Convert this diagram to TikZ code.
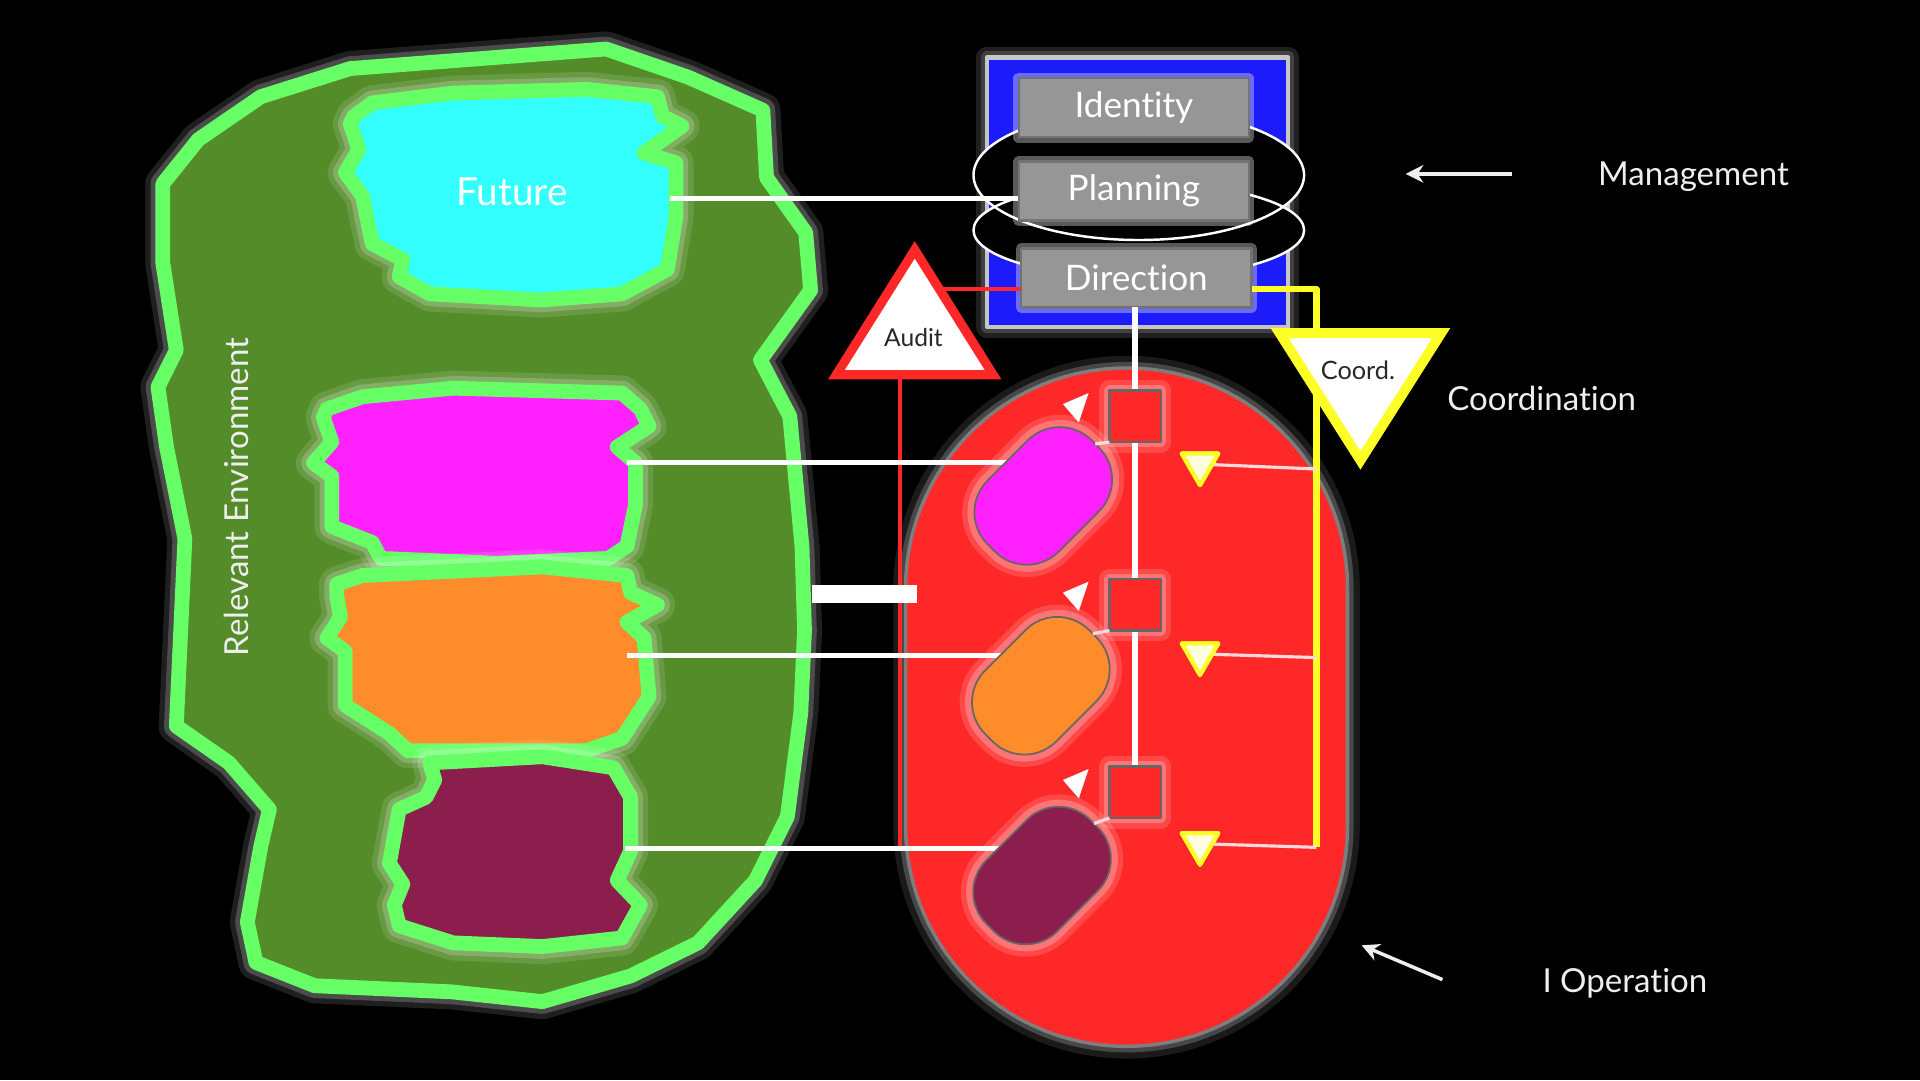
\documentclass[tikz,border=0pt]{standalone}
\usepackage{fontspec}
\setmainfont{Lato}[Ligatures={NoCommon}]
\usetikzlibrary{arrows.meta,calc,shapes.geometric}
\definecolor{envfill}{RGB}{84,140,42}
\definecolor{envline}{RGB}{102,255,102}
\definecolor{cyanfill}{RGB}{51,255,255}
\definecolor{magfill}{RGB}{255,34,255}
\definecolor{orgfill}{RGB}{255,140,42}
\definecolor{marfill}{RGB}{140,30,78}
\definecolor{opred}{RGB}{255,40,40}
\definecolor{mblue}{RGB}{28,28,250}
\definecolor{boxgray}{RGB}{150,150,150}
\definecolor{yel}{RGB}{255,255,40}
\definecolor{txtdark}{RGB}{40,40,40}
\definecolor{labelwhite}{RGB}{238,238,238}
\begin{document}
\begin{tikzpicture}[x=0.012245cm,y=-0.012245cm,line join=round,
  blob/.style={draw=envline,line width=4.2pt,
    preaction={draw=white,draw opacity=.12,line width=10pt},
    preaction={draw=white,draw opacity=.2,line width=7pt}},
  wire/.style={draw=white,line width=1.4pt},
  thinwire/.style={draw=white,line width=0.9pt},
  mgmtbox/.style={draw=black!55,fill=boxgray,line width=0.6pt,minimum width=2.302cm,
    minimum height=0.59cm,inner sep=0pt,outer sep=0pt,text=white,
    font=\fontsize{10}{12}\selectfont,
    preaction={draw=white,draw opacity=.35,line width=3pt}},
  lozenge/.style={draw=black!60,line width=0.5pt,minimum width=1.469cm,
    minimum height=1.004cm,rounded corners=0.45cm,rotate=45,inner sep=0pt,outer sep=0pt,
    preaction={draw=white,draw opacity=.15,line width=7pt},
    preaction={draw=white,draw opacity=.25,line width=4pt}},
  opsq/.style={draw=black!60,fill=opred,line width=0.7pt,minimum size=0.514cm,
    inner sep=0pt,outer sep=0pt,
    preaction={draw=white,draw opacity=.15,line width=6pt},
    preaction={draw=white,draw opacity=.25,line width=3pt}},
  sidelabel/.style={text=labelwhite,font=\fontsize{9.4}{11}\selectfont},
  ytri/.style={regular polygon,regular polygon sides=3,shape border rotate=180,
    minimum size=0.42cm,inner sep=0pt,outer sep=0pt,draw=yel,fill=yellow!12,line width=1.2pt},
  ptr/.style={draw=labelwhite,line width=1pt,-{Stealth[length=5pt,width=5pt]}}
]
\useasboundingbox (0,0) rectangle (1568,882);
\fill[black] (0,0) rectangle (1568,882);

% Relevant environment
\draw[blob,fill=envfill] (495,40) -- (562,63) -- (623,90) -- (626,145) -- (658,190) -- (662,237)
  -- (621,294) -- (645,340) -- (655,447) -- (657,515) -- (654,582) -- (643,667) -- (617,719)
  -- (570,770) -- (515,797) -- (443,818) -- (369,810) -- (257,805) -- (209,786) -- (202,753)
  -- (213,691) -- (220,661) -- (187,623) -- (144,593) -- (151,440) -- (136,365) -- (129,316)
  -- (144,286) -- (133,215) -- (133,150) -- (162,114) -- (213,79) -- (286,56) -- cycle;

% Future
\draw[blob,fill=cyanfill] (289,95) -- (304,84) -- (370,76) -- (479,73) -- (537,79) -- (541,95)
  -- (557,103) -- (526,125) -- (552,133) -- (552,177) -- (545,220) -- (508,240) -- (442,245)
  -- (351,240) -- (326,226) -- (329,212) -- (304,199) -- (296,160) -- (282,141) -- (293,122)
  -- (286,101) -- cycle;
% Magenta
\draw[blob,fill=magfill] (267,334) -- (296,324) -- (370,317) -- (508,321) -- (523,334) -- (530,348)
  -- (504,365) -- (519,378) -- (519,412) -- (512,446) -- (497,456) -- (406,460) -- (311,456)
  -- (304,443) -- (271,430) -- (271,389) -- (256,378) -- (271,361) -- (264,341) -- cycle;
% Orange
\draw[blob,fill=orgfill] (275,477) -- (296,470) -- (443,463) -- (512,470) -- (515,484) -- (537,494)
  -- (512,508) -- (526,521) -- (530,569) -- (508,603) -- (479,613) -- (333,613) -- (318,599)
  -- (282,576) -- (282,532) -- (267,521) -- (278,504) -- (275,487) -- cycle;
% Maroon
\draw[blob,fill=marfill] (351,623) -- (443,618) -- (501,627) -- (515,651) -- (515,695) -- (504,719)
  -- (523,739) -- (508,766) -- (443,773) -- (370,770) -- (326,756) -- (322,739) -- (329,722)
  -- (318,705) -- (326,661) -- (348,651) -- (355,637) -- cycle;

\node[text=labelwhite,rotate=90,font=\fontsize{9.4}{11}\selectfont] (envlbl) at (193,406) {Relevant Environment};
\node[text=white,font=\fontsize{11}{13}\selectfont] (future) at (418,157) {Future};

% Operation
\fill[opred,
  preaction={draw=white,draw opacity=.1,line width=8pt},
  preaction={draw=white,draw opacity=.2,line width=4.5pt},
  preaction={draw=white,draw opacity=.3,line width=2pt}]
  (741,481) arc[start angle=180,end angle=360,radius=179] -- (1099,674)
  arc[start angle=0,end angle=180,radius=179] -- cycle;

% audit line down
\coordinate (aB) at (735,306);
\coordinate (aBot) at (735,692);
\draw[draw=opred,line width=1.4pt] (aB) -- (aBot);

% connectors from environment
\coordinate (futR) at (547,162);
\coordinate (magR) at (512,378);
\coordinate (orgR) at (512,535);
\coordinate (marR) at (510,693);
\coordinate (l1) at (852,405);
\coordinate (l2) at (850,560);
\coordinate (l3) at (851,715);
\draw[wire] (magR) -- (l1 |- magR);
\draw[wire] (orgR) -- (l2 |- orgR);
\draw[wire] (marR) -- (l3 |- marR);
\coordinate (barL) at (663,485);
\coordinate (barR) at (749,485);
\draw[draw=white,line width=4.9pt] (barL) -- (barR);

% lozenges
\node[lozenge,fill=magfill] (loz1) at (l1) {};
\node[lozenge,fill=orgfill] (loz2) at (l2) {};
\node[lozenge,fill=marfill] (loz3) at (l3) {};

% management frame
\node[fill=mblue,draw=gray!45,line width=1.2pt,minimum width=3.012cm,minimum height=2.694cm,
  inner sep=0pt,preaction={draw=gray,draw opacity=.25,line width=6pt},
  preaction={draw=gray,draw opacity=.35,line width=3.5pt}] (frame) at (929,157) {};
\fill[black] (930,143) ellipse [x radius=135,y radius=53];
\fill[black] (930,188) ellipse [x radius=135,y radius=39];
\draw[white,line width=0.7pt] (930,143) ellipse [x radius=135,y radius=53];
\draw[white,line width=0.7pt] (930,188) ellipse [x radius=135,y radius=39];
\draw[wire] (futR) -- (832,162);
\node[mgmtbox] (identity) at (926,88) {Identity};
\node[mgmtbox] (planning) at (926,156) {Planning};
\node[mgmtbox] (direction) at (928,227) {Direction};

% squares and channel
\coordinate (s1) at (927,340);
\coordinate (s2) at (927,494);
\coordinate (s3) at (927,647);
\draw[draw=white,line width=1.9pt] (direction.south -| s1) -- (s3);
\node[opsq] (sq1) at (s1) {};
\node[opsq] (sq2) at (s2) {};
\node[opsq] (sq3) at (s3) {};
\draw[thinwire,draw=white!85!red] (sq1.south west) -- (loz1.east);
\draw[thinwire,draw=white!85!red] (sq2.south west) -- (loz2.east);
\draw[thinwire,draw=white!85!red] (sq3.south west) -- (loz3.east);
\foreach \s in {sq1,sq2,sq3}{
  \fill[white] ($(\s.center)+(-59,-10)$) -- ($(\s.center)+(-38,-19)$) -- ($(\s.center)+(-46,5)$) -- cycle;
}

% coordination channel
\coordinate (yTop) at (1075,236);
\coordinate (yBot) at (1075,692);
\draw[draw=yel,line width=1.8pt] (direction.east |- yTop) -- (yTop) -- (yBot);
\node[ytri] (yt1) at (980,379) {};
\node[ytri] (yt2) at (980,534) {};
\node[ytri] (yt3) at (980,689) {};
\draw[thinwire,draw=white!85!red] (1075,383) -- (yt1.center);
\draw[thinwire,draw=white!85!red] (1075,537) -- (yt2.center);
\draw[thinwire,draw=white!85!red] (yBot) -- (yt3.center);
\node[ytri] at (yt1) {};
\node[ytri] at (yt2) {};
\node[ytri] at (yt3) {};

% audit triangle
\coordinate (aA) at (747,204);
\coordinate (aL) at (683,306);
\coordinate (aR) at (811,306);
\coordinate (aE) at (767,236);
\draw[draw=opred,line width=1.4pt] (aE) -- (direction.west |- aE);
\draw[draw=opred,fill=white,line width=2.6pt,line join=miter] (aA) -- (aL) -- (aR) -- cycle;
\node[text=txtdark,font=\fontsize{7}{8}\selectfont] (audit) at (746,276) {Audit};

% coordination triangle
\coordinate (cL) at (1045,272);
\coordinate (cR) at (1177,272);
\coordinate (cB) at (1111,376);
\draw[draw=yel,fill=white,line width=2.8pt,line join=miter] (cL) -- (cR) -- (cB) -- cycle;
\node[text=txtdark,font=\fontsize{7.2}{8}\selectfont] (coordtxt) at (1109,302) {Coord.};

% side labels
\coordinate (mA) at (1235,142);
\coordinate (mB) at (1148,142);
\draw[ptr] (mA) -- (mB);
\node[sidelabel] (mgmtlbl) at (1383,144) {Management};
\node[sidelabel] (coordlbl) at (1259,325) {Coordination};
\coordinate (oA) at (1178,800);
\coordinate (oB) at (1112,772);
\draw[ptr] (oA) -- (oB);
\node[sidelabel] (oplbl) at (1327,803) {I Operation};
\end{tikzpicture}
\end{document}
